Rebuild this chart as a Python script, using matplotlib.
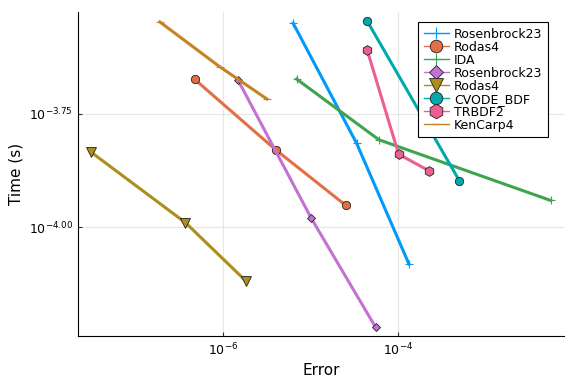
import matplotlib
matplotlib.use("Agg")
import matplotlib.pyplot as plt
from matplotlib.ticker import FixedLocator, NullLocator
import numpy as np

# log10 values
ros23_err = [-5.200, -4.475, -3.878]
ros23_time = [-3.550, -3.815, -4.081]
rodas4_err = [-6.323, -5.401, -4.598]
rodas4_time = [-3.674, -3.829, -3.952]
ida_err = [-5.161, -4.221, -2.258]
ida_time = [-3.673, -3.807, -3.941]
ros23b_err = [-5.828, -4.994, -4.258]
ros23b_time = [-3.676, -3.980, -4.221]
rodas4b_err = [-7.504, -6.430, -5.744]
rodas4b_time = [-3.835, -3.990, -4.118]
cvode_err = [-4.358, -3.303]
cvode_time = [-3.544, -3.897]
trbdf2_err = [-4.353, -3.995, -3.653]
trbdf2_time = [-3.610, -3.839, -3.875]
kencarp_err = [-6.723, -6.038, -5.500]
kencarp_time = [-3.547, -3.646, -3.717]

series = [
    ("Rosenbrock23", ros23_err, ros23_time, "#009AFA", "+"),
    ("Rodas4", rodas4_err, rodas4_time, "#E36F47", "o"),
    ("IDA", ida_err, ida_time, "#3EA44E", "+"),
    ("Rosenbrock23", ros23b_err, ros23b_time, "#C371D2", "D"),
    ("Rodas4", rodas4b_err, rodas4b_time, "#AC8E18", "v"),
    ("CVODE_BDF", cvode_err, cvode_time, "#00A9AD", "o"),
    ("TRBDF2", trbdf2_err, trbdf2_time, "#ED5E93", "h"),
    ("KenCarp4", kencarp_err, kencarp_time, "#C68225", "_"),
]

fig = plt.figure(figsize=(5.76, 3.84), dpi=100)
ax = fig.add_axes([0.1349, 0.124, 0.8451, 0.846])

sizes = {"+": 6, "o": 6, "D": 4.5, "v": 6.5, "h": 7, "_": 6}
for name, e, t, c, m in series:
    x = 10 ** np.array(e)
    y = 10 ** np.array(t)
    if m in "+_":
        ax.plot(x, y, color=c, lw=2.2, marker=m, ms=sizes[m], mew=0.8, label=name)
    else:
        ax.plot(x, y, color=c, lw=2.2, marker=m, ms=sizes[m], mfc=c,
                mec="#222222", mew=0.6, label=name)

ax.set_xscale("log")
ax.set_yscale("log")
ax.set_xlim(10 ** -7.661, 10 ** -2.101)
ax.set_ylim(10 ** -4.241, 10 ** -3.524)

ax.xaxis.set_major_locator(FixedLocator([1e-6, 1e-4]))
ax.xaxis.set_minor_locator(NullLocator())
ax.set_xticklabels([r"$10^{-6}$", r"$10^{-4}$"])
ax.yaxis.set_major_locator(FixedLocator([10 ** -4.0, 10 ** -3.75]))
ax.yaxis.set_minor_locator(NullLocator())
ax.set_yticklabels([r"$10^{-4.00}$", r"$10^{-3.75}$"])

ax.grid(True, color="#e6e6e6", lw=0.8)
ax.set_axisbelow(True)
for s in ["top", "right"]:
    ax.spines[s].set_visible(False)
ax.tick_params(labelsize=9, direction="in", length=3, color="#333333")

ax.set_xlabel("Error", fontsize=11)
ax.set_ylabel("Time (s)", fontsize=11)

leg = ax.legend(loc="upper right", bbox_to_anchor=(0.966, 0.967), fontsize=9,
                fancybox=False, edgecolor="black", framealpha=1,
                handlelength=2.0, labelspacing=0.0, borderpad=0.45,
                handletextpad=0.4, borderaxespad=0, markerscale=1.5)
leg.get_frame().set_linewidth(0.8)
for h in leg.get_lines():
    h.set_linewidth(1.0)

fig.savefig("out.png", dpi=100)
